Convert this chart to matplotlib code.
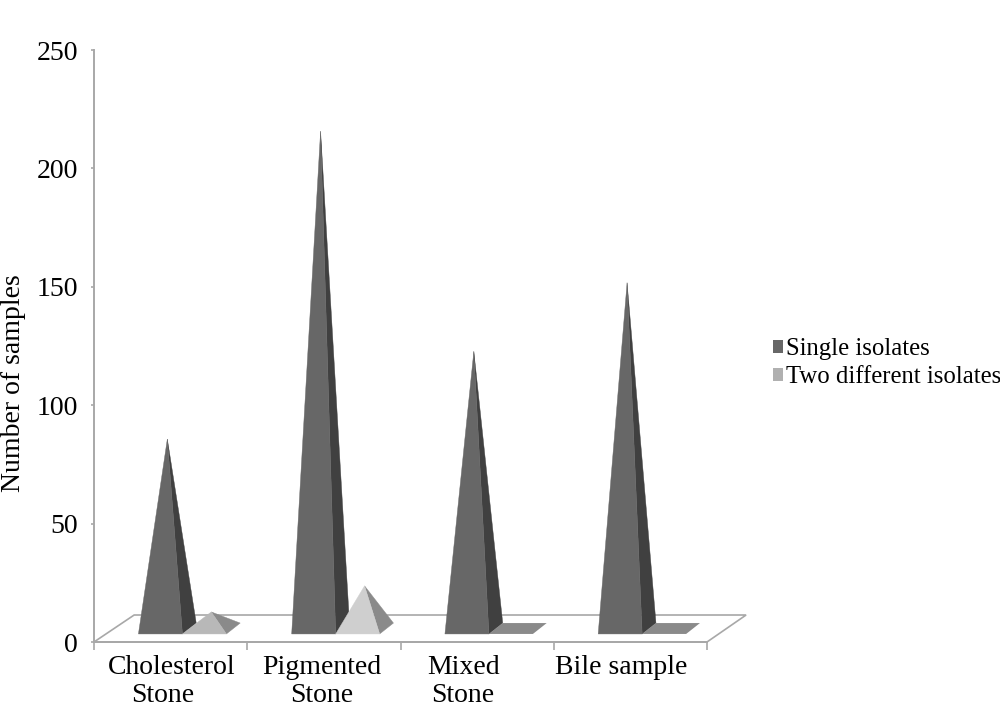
import matplotlib
matplotlib.use("Agg")
import matplotlib.pyplot as plt
from matplotlib.patches import Patch, Polygon

plt.rcParams['font.family'] = ['Liberation Serif', 'DejaVu Serif']

categories = ['Cholesterol\nStone', 'Pigmented\nStone', 'Mixed\nStone', 'Bile sample']
single_isolates = [80, 210, 117, 146]
two_isolates = [7, 18, 0, 0]
yticks = [0, 50, 100, 150, 200, 250]

GRID = '#a8a8a8'
# pyramid footprint in axis units
GAP = 0.29
WIDTH = 0.287
DX = 0.09
Y_FRONT = 3.4
Y_BACK = 8.0
# the labels are not centred on their category, pixel shift per line
LABEL_SHIFT = [(1, -8), (-2, -2), (-14, -14), (-9, 0)]


def pyramid(ax, left, value, front, side):
    right = left + WIDTH
    y_mid = (Y_FRONT + Y_BACK) / 2
    apex = (left + WIDTH / 2 + DX / 2, y_mid + value)
    if value == 0:
        ax.add_patch(Polygon([(left, Y_FRONT), (right, Y_FRONT), (right + DX, Y_BACK), (left + DX, Y_BACK)],
                             fc=side, ec='none', zorder=3, clip_on=False))
        return
    ax.add_patch(Polygon([(right, Y_FRONT), (right + DX, Y_BACK), apex],
                         fc=side, ec=side, lw=0.3, zorder=3, clip_on=False))
    ax.add_patch(Polygon([(left, Y_FRONT), (right, Y_FRONT), apex],
                         fc=front, ec=front, lw=0.3, zorder=3, clip_on=False))


fig = plt.figure(figsize=(10, 7.08), dpi=100)
ax = fig.add_axes([0.094, (708 - 642) / 708, 0.613, 592 / 708])
ax.set_xlim(0, 4)
ax.set_ylim(0, 250)

# floor of the 3d chart
ax.add_patch(Polygon([(0, 0), (0.262, 11.4), (4.255, 11.4), (4, 0)], fc='white', ec=GRID, lw=1.2,
                     zorder=1, clip_on=False))

light_fronts = ['#b8b8b8', '#cfcfcf', '#b8b8b8', '#b8b8b8']
for i in range(len(categories)):
    pyramid(ax, i + GAP, single_isolates[i], '#676767', '#404040')
    pyramid(ax, i + GAP + WIDTH, two_isolates[i], light_fronts[i], '#8a8a8a')

for s in ['top', 'right']:
    ax.spines[s].set_visible(False)
for s in ['left', 'bottom']:
    ax.spines[s].set_color(GRID)
    ax.spines[s].set_linewidth(1.4)

ax.set_yticks(yticks)
ax.set_xticks(range(5))
ax.set_xticklabels([])
ax.tick_params(axis='x', length=5.5, color=GRID, width=1.2)
ax.tick_params(axis='y', length=2, color=GRID, width=1.2, labelsize=20, pad=9.5)

# category labels line by line, 27 px apart
for i, cat in enumerate(categories):
    for j, line in enumerate(cat.split('\n')):
        ax.annotate(line, xy=(i + 0.5, 0), xycoords='data',
                    xytext=(LABEL_SHIFT[i][j], -32 - 28 * j), textcoords='offset pixels',
                    ha='center', va='baseline', fontsize=20, annotation_clip=False)

ax.set_ylabel('Number of samples', fontsize=20)
ax.yaxis.set_label_coords((26 - 94) / 613, (642 - 383) / 592)

handles = [Patch(fc='#676767', label='Single isolates'),
           Patch(fc='#b0b0b0', label='Two different isolates')]
fig.legend(handles=handles, loc='center left', bbox_to_anchor=(0.773, 0.487), frameon=False,
           fontsize=17.8, handlelength=0.42, handleheight=0.42, handletextpad=0.12,
           labelspacing=0.235, borderpad=0, borderaxespad=0)

fig.savefig('out.png', dpi=100)
